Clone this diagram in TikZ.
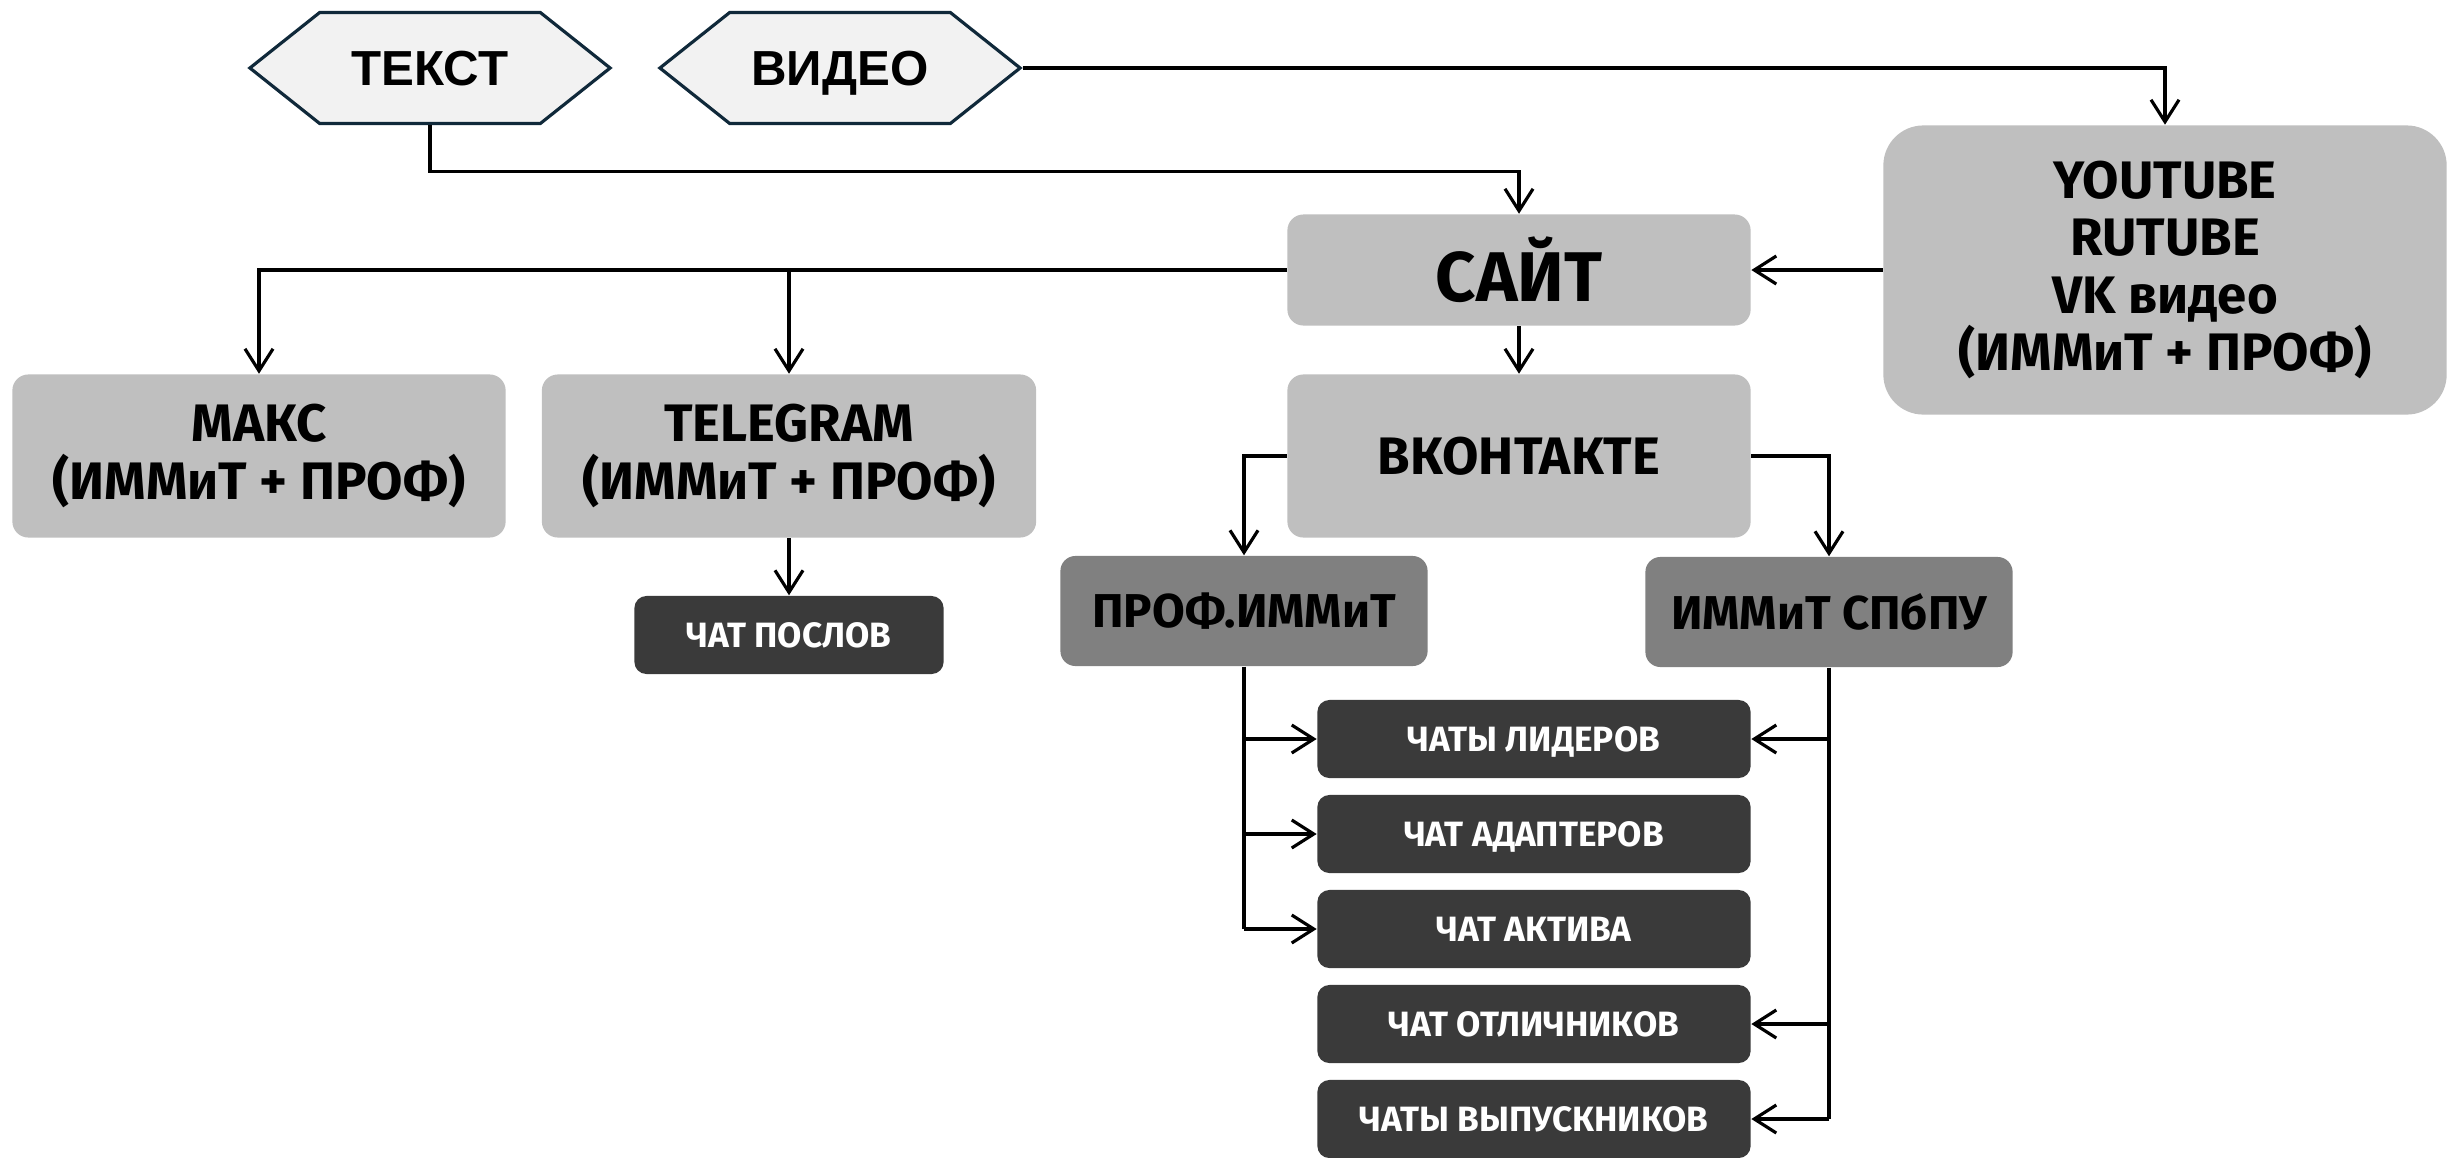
\documentclass[tikz,border=0pt]{standalone}
\usepackage{fontspec}
\setmainfont{Fira Sans}
\newfontfamily\hexfont{Liberation Sans}
\usetikzlibrary{shapes.symbols,arrows.meta}
\definecolor{hexfill}{HTML}{F2F2F2}
\definecolor{hexline}{HTML}{10293A}
\definecolor{boxlight}{HTML}{BFBFBF}
\definecolor{boxmid}{HTML}{808080}
\definecolor{boxdark}{HTML}{3A3A3A}
\begin{document}
\begin{tikzpicture}[x=0.01cm,y=-0.01cm,
hexbox/.style={signal,signal to=west and east,signal pointer angle=77,draw=hexline,line width=0.9pt,fill=hexfill,minimum width=3.6cm,minimum height=1.11cm,text depth=0pt,font=\hexfont\bfseries\fontsize{14}{16}\selectfont},
lbox/.style={rounded corners=0.16cm,fill=boxlight,align=center,font=\bfseries\fontsize{15}{16.3}\selectfont},
mbox/.style={rounded corners=0.15cm,fill=boxmid,minimum width=3.67cm,minimum height=1.1cm,font=\bfseries\fontsize{13.5}{15}\selectfont},
cbox/.style={rounded corners=0.12cm,fill=boxdark,text=white,minimum width=4.33cm,minimum height=0.78cm,text depth=0pt,font=\bfseries\fontsize{10}{12}\selectfont},
link/.style={line width=0.9pt,-{Straight Barb[length=2.2mm,width=2.8mm]}}]
\useasboundingbox(0,0)rectangle(2451,1157);
\pgfmathsetmacro{\kchatx}{1534}
\pgfmathsetmacro{\kchaty}{739}
\pgfmathsetmacro{\kchatstep}{95}
\node[hexbox](txt)at(430,68){ТЕКСТ};
\node[hexbox](vid)at(840,68){ВИДЕО};
\node[lbox,minimum width=4.63cm,minimum height=1.11cm,font=\bfseries\fontsize{20}{22}\selectfont](site)at(1519,270){САЙТ};
\node[lbox,rounded corners=0.4cm,minimum width=5.63cm,minimum height=2.89cm](yt)at(2165,270){YOUTUBE\\RUTUBE\\VK видео\\(ИММиТ + ПРОФ)};
\node[lbox,minimum width=4.93cm,minimum height=1.63cm](max)at(259,456){МАКС\\(ИММиТ + ПРОФ)};
\node[lbox,minimum width=4.94cm,minimum height=1.63cm](tg)at(789,456){TELEGRAM\\(ИММиТ + ПРОФ)};
\node[lbox,minimum width=4.63cm,minimum height=1.63cm](vk)at(1519,456){ВКОНТАКТЕ};
\node[cbox,minimum width=3.09cm](posl)at(789,635){ЧАТ ПОСЛОВ};
\node[mbox](prof)at(1244,611){ПРОФ.ИММиТ};
\node[mbox](immit)at(1829,612){ИММиТ СПбПУ};
\foreach \ki/\klb in {1/{ЧАТЫ ЛИДЕРОВ},2/{ЧАТ АДАПТЕРОВ},3/{ЧАТ АКТИВА},4/{ЧАТ ОТЛИЧНИКОВ},5/{ЧАТЫ ВЫПУСКНИКОВ}}{\node[cbox](ch\ki)at(\kchatx,\kchaty+\ki*\kchatstep-\kchatstep){\klb};}
\draw[link](vid.east)-|(yt.north);
\draw[link](txt.south)--++(0,46)-|(site.north);
\draw[link](yt.west)--(site.east);
\draw[link](site.west)-|(max.north);
\draw[link](tg.north|-site.west)--(tg.north);
\draw[link](site.south)--(vk.north);
\draw[link](tg.south)--(posl.north);
\draw[link](vk.west)-|(prof.north);
\draw[link](vk.east)-|(immit.north);
\draw[line width=0.9pt](prof.south)--(prof.south|-ch3.west);
\draw[line width=0.9pt](immit.south)--(immit.south|-ch5.east);
\foreach \ki in {1,2,3}{\draw[link](prof.south|-ch\ki.west)--(ch\ki.west);}
\foreach \ki in {1,4,5}{\draw[link](immit.south|-ch\ki.east)--(ch\ki.east);}
\end{tikzpicture}
\end{document}
